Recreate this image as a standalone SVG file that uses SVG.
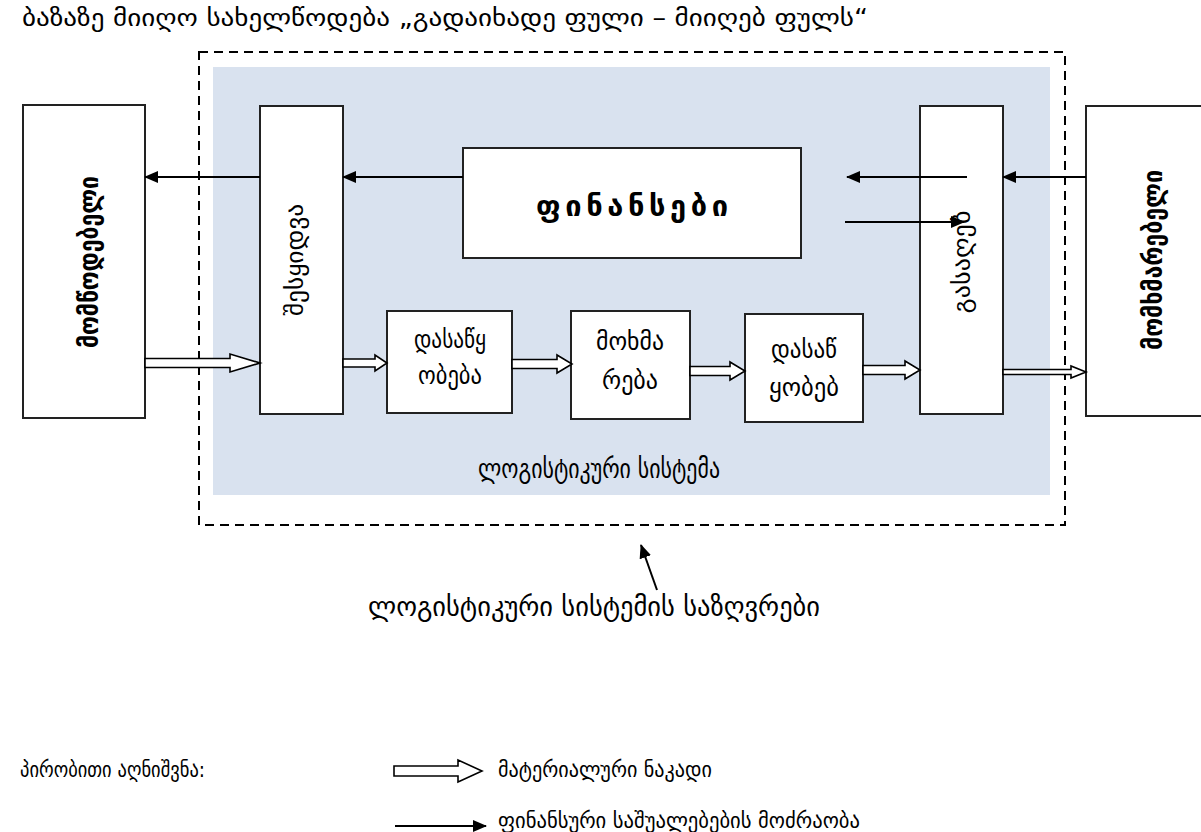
<svg xmlns="http://www.w3.org/2000/svg" width="1201" height="832" viewBox="0 0 1201 832">
<defs>
<marker id="ah" markerWidth="14" markerHeight="12" refX="13" refY="6" orient="auto" markerUnits="userSpaceOnUse">
<path d="M0,0 L14,6 L0,12 Z" fill="#000"/>
</marker>
<style>
text{font-family:"DejaVu Sans","Noto Sans",sans-serif;fill:#000}
.box{fill:#fff;stroke:#222;stroke-width:2}
.sol{stroke:#000;stroke-width:2;fill:none;marker-end:url(#ah)}
.hol{fill:#fff;stroke:#000;stroke-width:1.6;stroke-linejoin:miter}
.rot{text-anchor:middle;dominant-baseline:central}
.bx{font-size:25px;text-anchor:middle}
</style>
</defs>
<rect width="1201" height="832" fill="#fff"/>
<text x="22" y="26" font-size="24" textLength="846" lengthAdjust="spacingAndGlyphs">ბაზაზე მიიღო სახელწოდება „გადაიხადე ფული – მიიღებ ფულს“</text>
<g id="boundary">
<rect x="213" y="67" width="837" height="428" fill="#d9e2ef"/>
<rect x="199" y="52" width="866" height="473" fill="none" stroke="#000" stroke-width="2" stroke-dasharray="9,6"/>
<text x="599" y="478" font-size="28" text-anchor="middle" textLength="242" lengthAdjust="spacingAndGlyphs">ლოგისტიკური სისტემა</text>
</g>
<g id="supplier">
<rect class="box" x="23" y="105" width="122" height="313"/>
<text class="rot" font-weight="bold" font-size="27" transform="translate(88,262) rotate(-90)" textLength="172" lengthAdjust="spacingAndGlyphs">მომწოდებელი</text>
</g>
<g id="purchase">
<rect class="box" x="260" y="106" width="83" height="308"/>
<text class="rot" font-size="24" transform="translate(295,260) rotate(-90)" textLength="112" lengthAdjust="spacingAndGlyphs">შესყიდვა</text>
</g>
<g id="finance">
<rect class="box" x="463" y="148" width="338" height="110"/>
<text x="632" y="216" font-size="29" font-weight="bold" text-anchor="middle" textLength="192" lengthAdjust="spacing">ფინანსები</text>
</g>
<g id="storage1">
<rect class="box" x="387" y="311" width="125" height="102"/>
<text class="bx" x="450" y="348" textLength="72" lengthAdjust="spacingAndGlyphs">დასაწყ</text>
<text class="bx" x="450" y="384" textLength="64" lengthAdjust="spacingAndGlyphs">ობება</text>
</g>
<g id="consumption">
<rect class="box" x="571" y="311" width="119" height="108"/>
<text class="bx" x="630" y="350" textLength="68" lengthAdjust="spacingAndGlyphs">მოხმა</text>
<text class="bx" x="630" y="389" textLength="56" lengthAdjust="spacingAndGlyphs">რება</text>
</g>
<g id="storage2">
<rect class="box" x="745" y="314" width="118" height="108"/>
<text class="bx" x="804" y="358" textLength="66" lengthAdjust="spacingAndGlyphs">დასაწ</text>
<text class="bx" x="804" y="396" textLength="70" lengthAdjust="spacingAndGlyphs">ყობებ</text>
</g>
<g id="sales">
<rect class="box" x="920" y="106" width="83" height="308"/>
<text class="rot" font-size="24" transform="translate(962,262) rotate(-90)" textLength="103" lengthAdjust="spacingAndGlyphs">გასაღებ</text>
</g>
<g id="consumer">
<rect class="box" x="1086" y="106" width="130" height="310"/>
<text class="rot" font-weight="bold" font-size="27" transform="translate(1152,260) rotate(-90)" textLength="180" lengthAdjust="spacingAndGlyphs">მომხმარებელი</text>
</g>
<g id="connectors">
<line class="sol" x1="260" y1="177" x2="145" y2="177"/>
<line class="sol" x1="463" y1="177" x2="343" y2="177"/>
<line class="sol" x1="967" y1="177" x2="847" y2="177"/>
<line class="sol" x1="845" y1="222" x2="964" y2="222"/>
<line class="sol" x1="1086" y1="177" x2="1003" y2="177"/>
<polygon class="hol" points="145,358.5 230,358.5 230,354 260,363 230,372 230,367.5 145,367.5"/>
<polygon class="hol" points="343,359 375,359 375,355 387,363 375,371 375,367 343,367"/>
<polygon class="hol" points="512,359.5 557,359.5 557,355 572,364 557,373 557,368.5 512,368.5"/>
<polygon class="hol" points="690,366.5 730,366.5 730,362 745,371 730,380 730,375.5 690,375.5"/>
<polygon class="hol" points="863,365.5 905,365.5 905,361 920,370 905,379 905,374.5 863,374.5"/>
<polygon class="hol" points="1003,369.5 1071,369.5 1071,366 1086,372 1071,378 1071,374.5 1003,374.5"/>
<line class="sol" x1="657" y1="590" x2="641" y2="545"/>
</g>
<text x="594" y="616" font-size="28" text-anchor="middle" textLength="452" lengthAdjust="spacingAndGlyphs">ლოგისტიკური სისტემის საზღვრები</text>
<g id="legend">
<text x="20" y="777" font-size="22" textLength="185" lengthAdjust="spacingAndGlyphs">პირობითი აღნიშვნა:</text>
<polygon class="hol" points="394,766 458,766 458,760 482,771 458,782 458,776 394,776"/>
<text x="498" y="777" font-size="22" textLength="214" lengthAdjust="spacingAndGlyphs">მატერიალური ნაკადი</text>
<line class="sol" x1="395" y1="826" x2="486" y2="826"/>
<text x="498" y="828" font-size="22" textLength="362" lengthAdjust="spacingAndGlyphs">ფინანსური საშუალებების მოძრაობა</text>
</g>
</svg>
